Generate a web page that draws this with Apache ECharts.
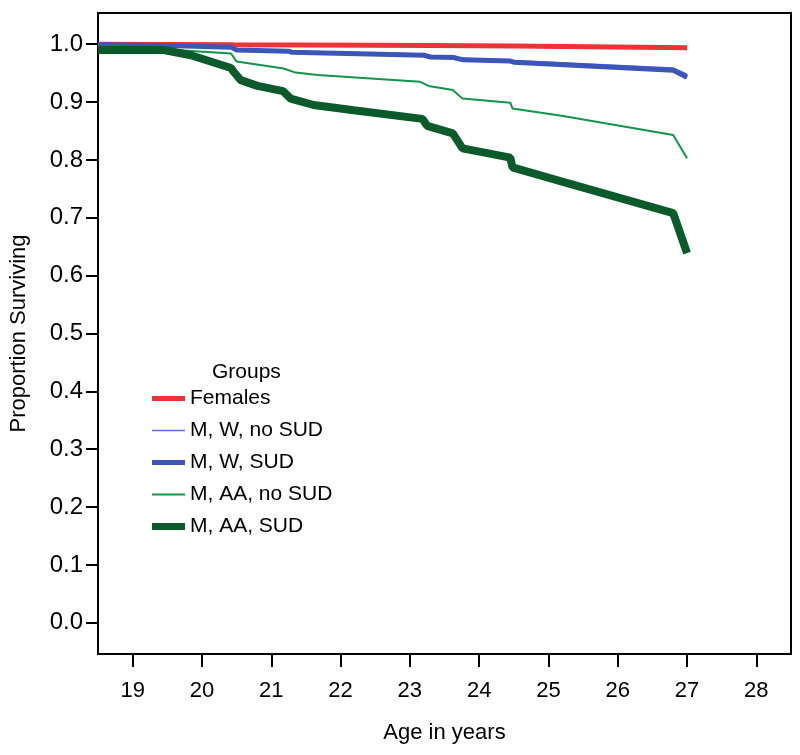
<!DOCTYPE html>
<html>
<head>
<meta charset="utf-8">
<script src="https://cdn.jsdelivr.net/npm/echarts@6/dist/echarts.min.js"></script>
<style>html,body{margin:0;padding:0;background:#fff}#c{width:800px;height:755px}</style>
</head>
<body>
<div id="c"></div>
<script>
var xTicks = [19, 20, 21, 22, 23, 24, 25, 26, 27, 28];
var yTicks = [0.0, 0.1, 0.2, 0.3, 0.4, 0.5, 0.6, 0.7, 0.8, 0.9, 1.0];
var groupNames = ['Females', 'M, W, no SUD', 'M, W, SUD', 'M, AA, no SUD', 'M, AA, SUD'];

var femAges = [18.5, 20.46, 23.3, 24.5, 27.0];
var femVals = [1.0, 0.999, 0.998, 0.997, 0.994];

var mwNoAges = [18.5, 19.5, 20.46, 20.5, 21.28, 23.2, 23.3, 23.7, 24.48, 26.8, 27.0];
var mwNoVals = [1.0, 0.999, 0.996, 0.992, 0.988, 0.983, 0.980, 0.976, 0.972, 0.959, 0.948];

var mwSudAges = [18.5, 19.5, 20.42, 20.5, 21.25, 21.3, 23.2, 23.3, 23.63, 23.77, 24.45, 24.5, 26.8, 27.0];
var mwSudVals = [0.999, 0.998, 0.995, 0.990, 0.988, 0.986, 0.981, 0.978, 0.977, 0.973, 0.971, 0.969, 0.955, 0.943];

var aaNoAges = [18.5, 19.5, 20.42, 20.5, 21.18, 21.35, 21.67, 23.15, 23.27, 23.62, 23.76, 24.45, 24.48, 25.21, 26.8, 27.0];
var aaNoVals = [0.992, 0.991, 0.984, 0.970, 0.958, 0.951, 0.947, 0.935, 0.928, 0.921, 0.906, 0.899, 0.889, 0.876, 0.843, 0.803];

var aaSudAges = [18.5, 19.45, 19.84, 20.42, 20.46, 20.56, 20.8, 21.17, 21.28, 21.61, 22.19, 23.18, 23.25, 23.62, 23.76, 24.45, 24.48, 25.21, 26.8, 27.0];
var aaSudVals = [0.990, 0.990, 0.981, 0.959, 0.952, 0.938, 0.928, 0.919, 0.906, 0.895, 0.886, 0.871, 0.859, 0.846, 0.820, 0.804, 0.787, 0.762, 0.708, 0.639];

function pairs(xs, ys) { return xs.map(function (x, i) { return [x, ys[i]]; }); }

var colors = ['#ee3338', '#5a6cf0', '#3b56b8', '#14934a', '#0b5a2b'];
var widths = [5, 1.6, 5, 2, 8];
var legendThick = [5, 1.6, 5, 2, 7];
var allData = [pairs(femAges, femVals), pairs(mwNoAges, mwNoVals), pairs(mwSudAges, mwSudVals), pairs(aaNoAges, aaNoVals), pairs(aaSudAges, aaSudVals)];

var FONT = "'Liberation Sans', Arial, sans-serif";

var series = groupNames.map(function (n, i) {
  return {
    name: n, type: 'line', data: allData[i], symbol: 'none', z: 2 + i,
    lineStyle: { color: colors[i], width: widths[i] },
    itemStyle: { color: colors[i] }
  };
});

var chart = echarts.init(document.getElementById('c'), null, { renderer: 'canvas' });
chart.setOption({
  animation: false,
  backgroundColor: '#fff',
  title: {
    text: 'Groups', left: 207, top: 357,
    textStyle: { fontFamily: FONT, fontSize: 21, fontWeight: 'normal', color: '#000' }
  },
  legend: {
    orient: 'vertical', left: 147, top: 383, itemWidth: 33, itemHeight: 14, itemGap: 11,
    textStyle: { fontFamily: FONT, fontSize: 21, color: '#000', lineHeight: 21 },
    itemStyle: { borderWidth: 0 },
    data: groupNames.map(function (n, i) {
      return { name: n, icon: 'path://M0,0H33V' + legendThick[i] + 'H0Z', itemStyle: { color: colors[i], borderWidth: 0 } };
    })
  },
  grid: { left: 97, right: 9, top: 13, bottom: 101, show: true, borderColor: '#000', borderWidth: 2, containLabel: false },
  xAxis: {
    type: 'value', min: 18.5, max: 28.5, position: 'bottom',
    name: 'Age in years', nameLocation: 'middle', nameGap: 68,
    nameTextStyle: { fontFamily: FONT, fontSize: 22, color: '#000' },
    axisLine: { show: true, onZero: false, lineStyle: { color: '#000', width: 2 } },
    axisTick: { show: true, inside: false, length: 13, lineStyle: { color: '#000', width: 2 }, customValues: xTicks },
    axisLabel: { fontFamily: FONT, fontSize: 22, color: '#000', margin: 26, customValues: xTicks },
    splitLine: { show: false }
  },
  yAxis: {
    type: 'value', min: -0.054, max: 1.054, position: 'left',
    name: 'Proportion Surviving', nameLocation: 'middle', nameGap: 68,
    nameTextStyle: { fontFamily: FONT, fontSize: 22, color: '#000' },
    axisLine: { show: true, onZero: false, lineStyle: { color: '#000', width: 2 } },
    axisTick: { show: true, inside: false, length: 12, lineStyle: { color: '#000', width: 2 }, customValues: yTicks },
    axisLabel: { fontFamily: FONT, fontSize: 24, color: '#000', margin: 15, customValues: yTicks,
      formatter: function (v) { return v.toFixed(1); } },
    splitLine: { show: false }
  },
  series: series
});
</script>
</body>
</html>
